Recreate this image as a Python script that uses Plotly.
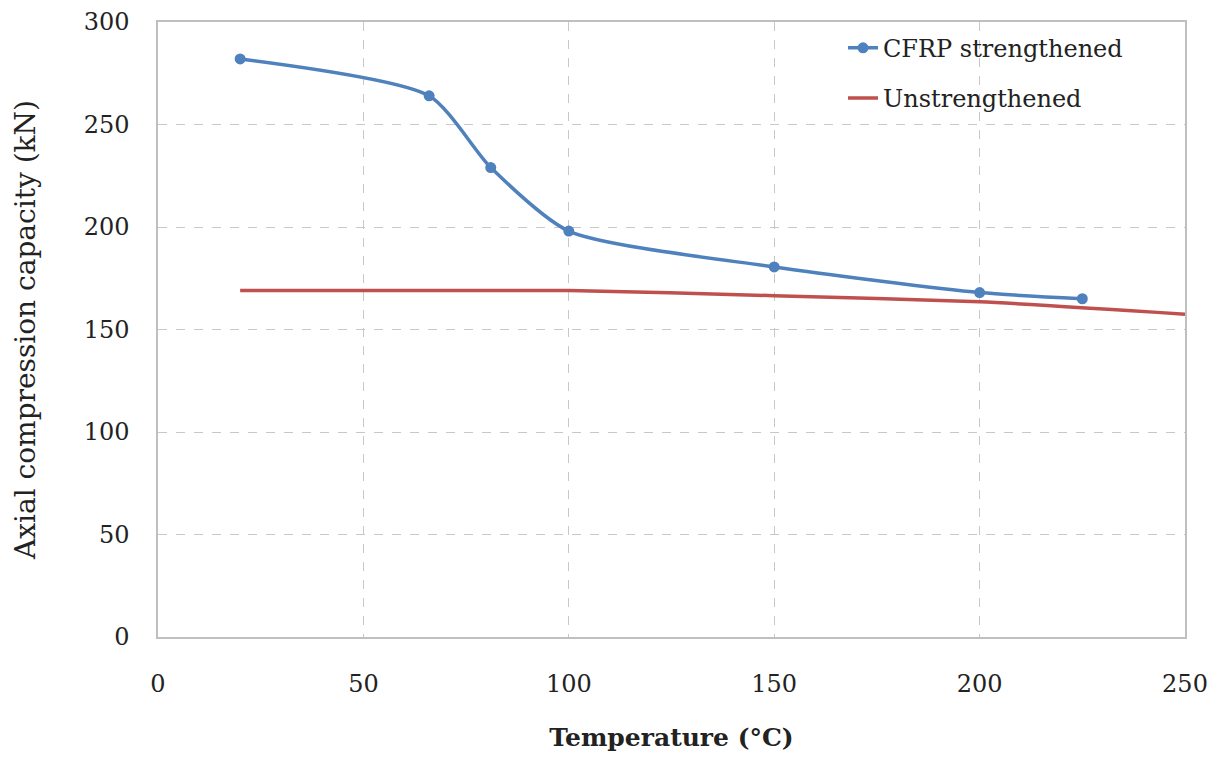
import plotly.graph_objects as go

temp_cfrp = [20, 66, 81, 100, 150, 200, 225]
cap_cfrp = [282, 264, 229, 198, 180.5, 168, 165]

temp_unstr = [20, 100, 150, 200, 250]
cap_unstr = [169, 169, 166.5, 163.5, 157.5]

x_ticks = [0, 50, 100, 150, 200, 250]
y_ticks = [0, 50, 100, 150, 200, 250, 300]

FONT = "DejaVu Serif"

fig = go.Figure()
fig.add_trace(go.Scatter(
    x=temp_cfrp, y=cap_cfrp, name="CFRP strengthened",
    mode="lines+markers", line=dict(color="#4F81BD", width=3.5, shape="spline", smoothing=0.65),
    marker=dict(size=11, color="#4F81BD"), legendgroup="a",
))
fig.add_trace(go.Scatter(
    x=temp_unstr, y=cap_unstr, name="Unstrengthened",
    mode="lines", line=dict(color="#C0504D", width=3.5, shape="spline", smoothing=0.6),
    legendgroup="b",
))

axis_common = dict(
    showline=True, linecolor="#BFBFBF", linewidth=1.5, mirror=True,
    showgrid=True, gridcolor="#C8C8C8", griddash="dash", gridwidth=1,
    zeroline=False, ticks="", tickfont=dict(family=FONT, size=24, color="#222"),
)

fig.update_layout(
    width=1216, height=757,
    margin=dict(l=158, r=31, t=22, b=120, autoexpand=False),
    paper_bgcolor="white", plot_bgcolor="white",
    font=dict(family=FONT, color="#222"),
    xaxis=dict(range=[0, 250], tickvals=x_ticks, ticklabelstandoff=24,
               title=dict(text="<b>Temperature (°C)</b>", font=dict(family=FONT, size=25, color="#222"), standoff=32),
               **axis_common),
    yaxis=dict(range=[0, 300], tickvals=y_ticks, ticklabelstandoff=22,
               title=dict(text="Axial compression capacity (kN)", font=dict(family=FONT, size=28, color="#222"), standoff=40),
               **axis_common),
    legend=dict(x=0.667, y=0.994, xanchor="left", yanchor="top",
                font=dict(family=FONT, size=24, color="#222"),
                bgcolor="rgba(255,255,255,0)", tracegroupgap=16, traceorder="grouped"),
)

fig.write_html("out.html")
